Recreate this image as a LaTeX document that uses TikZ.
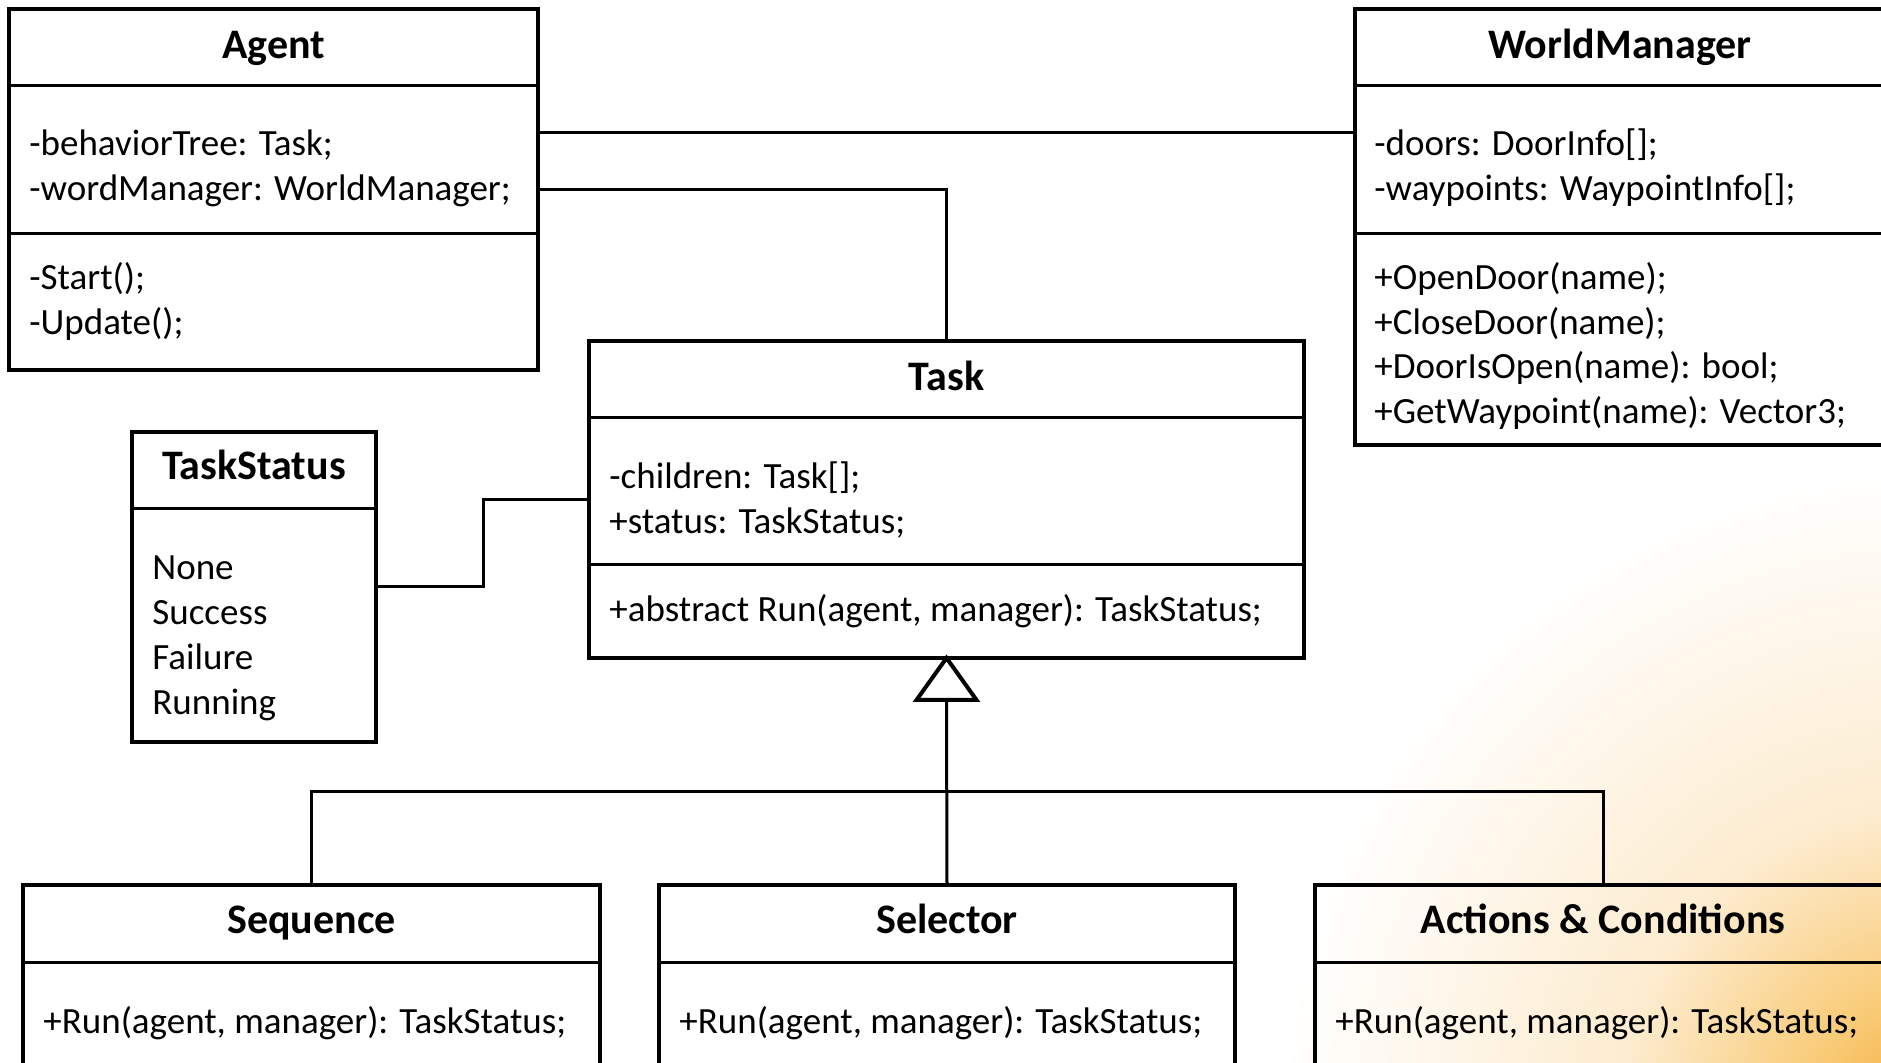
\documentclass[tikz,border=0pt]{standalone}
\usepackage{fontspec}
\setmainfont{Carlito}
% soft orange glow in the lower right corner
\definecolor{glowA}{RGB}{244,170,52}
\definecolor{glowB}{RGB}{249,204,122}
\definecolor{glowC}{RGB}{253,236,208}
\pgfdeclareradialshading{cornerglow}{\pgfpoint{0bp}{0bp}}{%
  color(0bp)=(glowA); color(5bp)=(glowB); color(12bp)=(glowC); color(25bp)=(white); color(50bp)=(white)}
\begin{document}
\begin{tikzpicture}[x=0.5pt,y=-0.5pt,
  classbox/.style={draw=black, line width=2pt, inner sep=0pt, outer sep=0pt, anchor=north west},
  divider/.style={line width=1.5pt},
  link/.style={line width=1.5pt},
  clstitle/.style={font=\fontsize{21pt}{25pt}\selectfont\bfseries, anchor=base, inner sep=0pt},
  member/.style={font=\fontsize{18.5pt}{22pt}\selectfont, anchor=base west, inner sep=0pt},
]
\useasboundingbox (0,0) rectangle (1881,1063);
\begin{scope}
\clip (0,0) rectangle (1881,1063);
\fill[white] (0,0) rectangle (1881,1063);
\shade[shading=cornerglow] (1930,1120) circle (650);

% class boxes
\node[classbox, minimum width=264.5pt, minimum height=180.5pt] (agent) at (9,9) {};
\node[classbox, minimum width=265.5pt, minimum height=218pt] (wm) at (1355,9) {};
\node[classbox, minimum width=357.5pt, minimum height=158.5pt] (task) at (589,341) {};
\node[classbox, minimum width=122pt, minimum height=155pt] (status) at (132,432) {};
\node[classbox, minimum width=288.5pt, minimum height=100pt] (seq) at (23,885) {};
\node[classbox, minimum width=288pt, minimum height=100pt] (sel) at (659,885) {};
\node[classbox, minimum width=288pt, minimum height=100pt] (act) at (1315,885) {};

% compartment dividers
\draw[divider] (agent.north west) ++(0,77) -- ++(529,0);
\draw[divider] (agent.north west) ++(0,225) -- ++(529,0);
\draw[divider] (wm.north west) ++(0,77) -- ++(531,0);
\draw[divider] (wm.north west) ++(0,225) -- ++(531,0);
\draw[divider] (task.north west) ++(0,77) -- ++(715,0);
\draw[divider] (task.north west) ++(0,224) -- ++(715,0);
\draw[divider] (status.north west) ++(0,77) -- ++(244,0);
\draw[divider] (seq.north west) ++(0,77) -- ++(577,0);
\draw[divider] (sel.north west) ++(0,77) -- ++(576,0);
\draw[divider] (act.north west) ++(0,77) -- ++(576,0);

% Agent
\node[clstitle] (agentT) at (273.5,59) {Agent};
\node[member] (agentA1) at (29,156) {-behaviorTree: Task;};
\node[member] (agentA2) at (29,201) {-wordManager: WorldManager;};
\node[member] (agentM1) at (29,290) {-Start();};
\node[member] (agentM2) at (29,335) {-Update();};

% WorldManager
\node[clstitle] (wmT) at (1620,59) {WorldManager};
\node[member] (wmA1) at (1374,156) {-doors: DoorInfo[];};
\node[member] (wmA2) at (1374,201) {-waypoints: WaypointInfo[];};
\node[member] (wmM1) at (1374,290) {+OpenDoor(name);};
\node[member] (wmM2) at (1374,335) {+CloseDoor(name);};
\node[member] (wmM3) at (1374,379) {+DoorIsOpen(name): bool;};
\node[member] (wmM4) at (1374,424) {+GetWaypoint(name): Vector3;};

% Task
\node[clstitle] (taskT) at (946.5,391) {Task};
\node[member] (taskA1) at (609,489) {-children: Task[];};
\node[member] (taskA2) at (609,534) {+status: TaskStatus;};
\node[member] (taskM1) at (609,622) {+abstract Run(agent, manager): TaskStatus;};

% TaskStatus
\node[clstitle] (statusT) at (254,480) {TaskStatus};
\node[member] (statusV1) at (152,580) {None};
\node[member] (statusV2) at (152,625) {Success};
\node[member] (statusV3) at (152,670) {Failure};
\node[member] (statusV4) at (152,715) {Running};

% subclasses
\node[clstitle] (seqT) at (311.5,934) {Sequence};
\node[member] (seqM1) at (43,1033) {+Run(agent, manager): TaskStatus;};
\node[clstitle] (selT) at (947,934) {Selector};
\node[member] (selM1) at (679,1033) {+Run(agent, manager): TaskStatus;};
\node[clstitle] (actT) at (1603,934) {Actions \& Conditions};
\node[member] (actM1) at (1335,1033) {+Run(agent, manager): TaskStatus;};

% associations
\draw[link] ([yshift=-62pt]agent.north east) -- ([yshift=-62pt]wm.north west);
\draw[link] (agent.east) -- (agent.east -| task.north) -- (task.north);
\draw[link] (status.east) -- ++(107,0) |- (task.west);

% generalization
\draw[line width=2pt, line join=miter] (task.south) -- ++(-30,42) -- ++(60,0) -- cycle;
\draw[link] ([yshift=-21pt]task.south) -- (sel.north);
\draw[link] (seq.north) -- ++(0,-93) -| (act.north);
\end{scope}
\end{tikzpicture}
\end{document}
